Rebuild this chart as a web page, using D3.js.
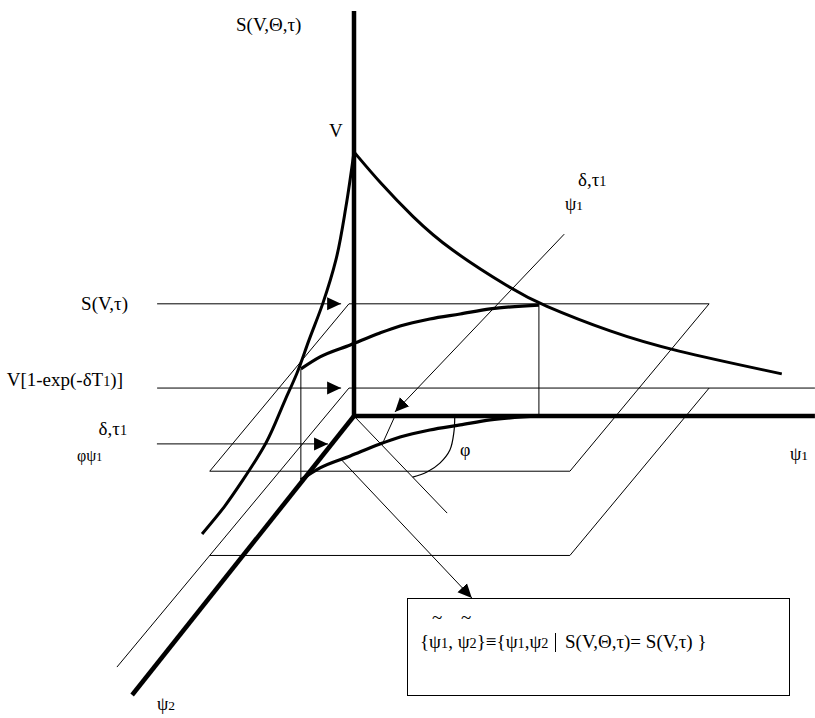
<!DOCTYPE html>
<html>
<head>
<meta charset="utf-8">
<script src="https://cdn.jsdelivr.net/npm/d3@7"></script>
<style>
  body { margin: 0; background: #fff; }
  text { font-family: "Liberation Serif", "Times New Roman", serif; fill: #000; }
</style>
</head>
<body>
<script>
// all three axes (ψ1, ψ2, S) run 0..10 in diagram units
const axisMax = 10;

// S(V,Θ,τ) along ψ1 on the back wall (ψ2 = 0)
const decayPsi1 = [0, 0.57, 1.28, 2.02, 3.46, 4.02, 5.63, 6.87, 9.30];
const decayS    = [6.52, 5.75, 4.91, 4.15, 3.11, 2.77, 2.05, 1.63, 1.04];

// S(V,Θ,τ) along ψ2 on the side wall (ψ1 = 0)
const sidePsi2 = [0, 0.35, 0.78, 1.34, 1.94, 2.46, 2.97, 3.79, 4.78, 5.60, 6.55];
const sideS    = [6.52, 5.40, 4.39, 3.71, 3.21, 2.75, 2.44, 1.95, 1.72, 1.61, 1.60];

// iso set {ψ1,ψ2 | S(V,Θ,τ) = S(V,τ)}, drawn on the S(V,τ) plane and on the floor
const isoPsi1 = [0, 0.20, 0.64, 1.07, 1.38, 1.90, 2.47, 3.03, 4.02];
const isoPsi2 = [2.29, 1.86, 1.43, 1.00, 0.75, 0.50, 0.32, 0.14, 0];
const isoLevels = [2.74, 0];

// horizontal planes: S(V,τ) and V[1-exp(-δT1)]
const planeLevels = [2.77, 0.69];
const planeBackEnd = [7.72, 10.02];
const planeSideEnd = [6, 10];
const planeLeft = -0.11, planeRight = 7.72, planeDepth = 6;

// label arrows (level S, depth ψ2, from ψ1, to ψ1)
const arrowS    = [2.77, 0.69, 0];
const arrowPsi2 = [0, 0, 1.0];
const arrowFrom = [-4.28, -4.28, -3.78];
const arrowTo   = [-0.28, -0.28, -0.06];

// φ angle arc on the floor
const arcPsi1 = [2.19, 2.46, 2.70, 2.72, 2.60, 2.38];
const arcPsi2 = [0, 0.57, 1.22, 1.69, 2.01, 2.19];

// other floor / wall segments as [ψ1, ψ2, S]
const rayStart = [4.57, 0, 4.49], rayEnd = [0.89, 0, 0.1];
const tickStart = [0.89, 0, 0], tickEnd = [1.13, 1.04, 0];
const diagStart = [0, 0, 0], diagEnd = [3.78, 3.48, 0];
const boxArrowStart = [0.53, 1.58, 0], boxArrowEnd = [5.85, 6.52, 0];
const psi2AxisEnd = [0.22, 10, 0];

const W = 815, H = 718;
const svg = d3.select("body").append("svg")
  .attr("width", W).attr("height", H);

// oblique projection: ψ1 to the right, S up, ψ2 down-left
const sx = d3.scaleLinear().domain([0, axisMax]).range([354, 814]);
const sy = d3.scaleLinear().domain([0, axisMax]).range([416, 11]);
const dx = d3.scaleLinear().domain([0, axisMax]).range([0, -232]);
const dy = d3.scaleLinear().domain([0, axisMax]).range([0, 279]);
const proj = (p1, p2, s) => [sx(p1) + dx(p2), sy(s) + dy(p2)];

const defs = svg.append("defs");
defs.append("marker")
  .attr("id", "head")
  .attr("viewBox", "0 0 14 14")
  .attr("refX", 14).attr("refY", 7)
  .attr("markerWidth", 14).attr("markerHeight", 14)
  .attr("markerUnits", "userSpaceOnUse")
  .attr("orient", "auto")
  .append("path").attr("d", "M0,0.5L14,7L0,13.5Z").attr("fill", "#000");

const straight = d3.line();
const smoothB = d3.line().curve(d3.curveBasis);
const smoothX = d3.line().curve(d3.curveMonotoneX);
const smoothY = d3.line().curve(d3.curveMonotoneY);
const smooth = d3.line().curve(d3.curveCatmullRom.alpha(0.5));

function seg(a, b, w, marker) {
  const p = svg.append("path")
    .attr("d", straight([proj(...a), proj(...b)]))
    .attr("fill", "none").attr("stroke", "#000").attr("stroke-width", w);
  if (marker) p.attr("marker-end", "url(#head)");
  return p;
}

// planes
planeLevels.forEach((s, i) => {
  const pts = [[planeBackEnd[i], 0], [planeLeft, 0], [planeLeft, planeSideEnd[i]]];
  svg.append("path")
    .attr("d", straight(pts.map(d => proj(d[0], d[1], s))))
    .attr("fill", "none").attr("stroke", "#000").attr("stroke-width", 1);
  const pts2 = [[planeRight, 0], [planeRight, planeDepth], [planeLeft, planeDepth]];
  svg.append("path")
    .attr("d", straight(pts2.map(d => proj(d[0], d[1], s))))
    .attr("fill", "none").attr("stroke", "#000").attr("stroke-width", 1);
});

// label arrows
arrowS.forEach((s, i) => {
  seg([arrowFrom[i], arrowPsi2[i], s], [arrowTo[i], arrowPsi2[i], s], 1, true);
});

// drop lines from the upper iso curve to the floor
const lastIso = isoPsi1.length - 1;
seg([isoPsi1[0], isoPsi2[0], isoLevels[0]], [isoPsi1[0], isoPsi2[0], isoLevels[1]], 1);
seg([isoPsi1[lastIso], isoPsi2[lastIso], planeLevels[0]], [isoPsi1[lastIso], isoPsi2[lastIso], 0], 1);

// thin floor lines
seg(rayStart, rayEnd, 1, true);
seg(tickStart, tickEnd, 1);
seg(diagStart, diagEnd, 1);
seg(boxArrowStart, boxArrowEnd, 1, true);

svg.append("path")
  .attr("d", smooth(arcPsi1.map((p, i) => proj(p, arcPsi2[i], 0))))
  .attr("fill", "none").attr("stroke", "#000").attr("stroke-width", 1.2);

// axes
seg([0, 0, 0], [0, 0, axisMax], 4.5);
seg([0, 0, 0], [10.02, 0, 0], 4.5);
seg([0, 0, 0], psi2AxisEnd, 4.5);

// curves
svg.append("path")
  .attr("d", smoothB(decayPsi1.map((p, i) => proj(p, 0, decayS[i]))))
  .attr("fill", "none").attr("stroke", "#000").attr("stroke-width", 3);
svg.append("path")
  .attr("d", smoothY(sidePsi2.map((p, i) => proj(0, p, sideS[i]))))
  .attr("fill", "none").attr("stroke", "#000").attr("stroke-width", 3);
isoLevels.forEach(s => {
  svg.append("path")
    .attr("d", smoothX(isoPsi1.map((p, i) => proj(p, isoPsi2[i], s))))
    .attr("fill", "none").attr("stroke", "#000").attr("stroke-width", 3.2);
});

// box
svg.append("rect")
  .attr("x", 407.5).attr("y", 598.5).attr("width", 382).attr("height", 97)
  .attr("fill", "none").attr("stroke", "#000").attr("stroke-width", 1);

// text labels; second element of a piece marks a small digit
function label(x, y, pieces, size, anchor) {
  const t = svg.append("text").attr("x", x).attr("y", y)
    .attr("font-size", size).attr("text-anchor", anchor || "start");
  pieces.forEach(p => {
    const sp = t.append("tspan").text(p[0]);
    if (p[1]) sp.attr("font-size", size * 0.75);
  });
  return t;
}

label(236, 31, [["S(V,Θ,τ)"]], 19);
label(329, 137, [["V"]], 19);
label(128, 310, [["S(V,τ)"]], 19, "end");
label(123, 386, [["V[1-exp(-δT"], ["1", true], [")]"]], 19, "end");
label(127, 435, [["δ,τ"], ["1", true]], 19, "end");
label(77, 461, [["φψ"], ["1", true]], 16);
label(578, 186, [["δ,τ"], ["1", true]], 19);
label(565, 210, [["ψ"], ["1", true]], 18);
label(460, 456, [["φ"]], 18);
label(790, 460, [["ψ"], ["1", true]], 18);
label(157, 710, [["ψ"], ["2", true]], 18);

label(432, 624, [["~"]], 19);
label(461, 624, [["~"]], 19);
label(420, 648, [["{ψ"], ["1", true], [", ψ"], ["2", true], ["}≡{ψ"], ["1", true], [",ψ"], ["2", true]], 19);
svg.append("line")
  .attr("x1", 555.5).attr("x2", 555.5).attr("y1", 633).attr("y2", 652)
  .attr("stroke", "#000").attr("stroke-width", 1);
label(565, 648, [["S(V,Θ,τ)= S(V,τ) }"]], 19);
</script>
</body>
</html>
